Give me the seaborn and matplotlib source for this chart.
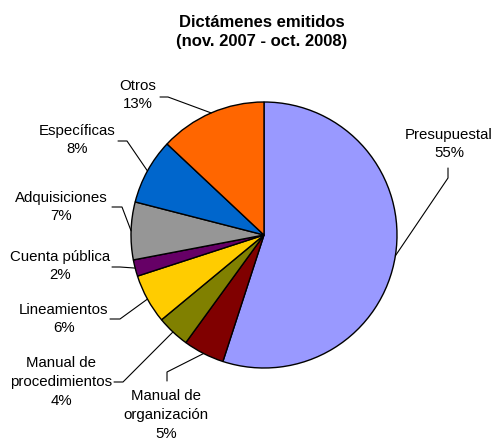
import numpy as np
import matplotlib
matplotlib.use("Agg")
import matplotlib.pyplot as plt
import seaborn as sns

# data (percent of opinions issued)
categorias = ["Presupuestal", "Manual de\norganización", "Manual de\nprocedimientos",
              "Lineamientos", "Cuenta pública", "Adquisiciones", "Específicas", "Otros"]
porcentajes = [55, 5, 4, 6, 2, 7, 8, 13]
colores = ["#9999FF", "#800000", "#808000", "#FFCC00", "#660066", "#969696", "#0066CC", "#FF6600"]

sns.set_style("white")
plt.rcParams["font.family"] = ["Liberation Sans", "DejaVu Sans"]
plt.rcParams["text.color"] = "black"

W, H = 494, 442
CX, CY, R = 264, 235, 133  # pie centre / radius in pixels


def px(x, y):
    return (x - CX) / R, (CY - y) / R


fig = plt.figure(figsize=(W / 100, H / 100), dpi=100)
ax = fig.add_axes([0, 0, 1, 1])

wedges, _ = ax.pie(porcentajes, colors=sns.color_palette(colores), startangle=90,
                   counterclock=False, radius=1,
                   wedgeprops=dict(edgecolor="black", linewidth=1))

ax.set_xlim(px(0, 0)[0], px(W, 0)[0])
ax.set_ylim(px(0, H)[1], px(0, 0)[1])
ax.set_aspect("equal")
ax.axis("off")

# label layout: text centre, elbow of leader line, end of leader line (pixels)
layout = [
    ((449, 144), (448, 178), (448, 168)),
    ((166, 415), (167, 372), (167, 381)),
    ((61, 382), (123, 382), (114, 382)),
    ((64, 319), (120, 319), (110, 319)),
    ((60, 266), (120, 267), (112, 267)),
    ((61, 207), (122, 207), (112, 207)),
    ((77, 140), (127, 141), (118, 141)),
    ((138, 95), (168, 97), (160, 97)),
]

for w, cat, p, (txt, elbow, end) in zip(wedges, categorias, porcentajes, layout):
    ang = np.deg2rad((w.theta1 + w.theta2) / 2)
    sx, sy = np.cos(ang), np.sin(ang)
    ex, ey = px(*elbow)
    fx, fy = px(*end)
    ax.plot([sx, ex, fx], [sy, ey, fy], color="black", lw=0.8)
    tx, ty = px(*txt)
    ax.text(tx, ty, f"{cat}\n{p}%", ha="center", va="center", fontsize=10.8,
            color="black", linespacing=1.42)

fig.text(262 / W, 1 - 32 / H, "Dictámenes emitidos\n(nov. 2007 - oct. 2008)",
         ha="center", va="center", fontsize=12, fontweight="bold", color="black",
         linespacing=1.4)

fig.savefig("out.png", dpi=100)
